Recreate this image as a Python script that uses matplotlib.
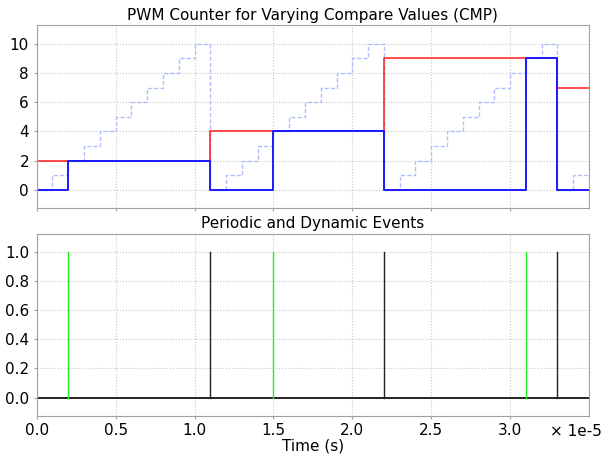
import numpy as np
import matplotlib
matplotlib.use("Agg")
import matplotlib.pyplot as plt

## data (time in microseconds, scaled to seconds when plotting)
t_us = [0, 1, 2, 3, 4, 5, 6, 7, 8, 9, 10, 11, 12, 13, 14, 15, 16, 17,
        18, 19, 20, 21, 22, 23, 24, 25, 26, 27, 28, 29, 30, 31, 32, 33, 34, 35]
counter = [0, 1, 2, 3, 4, 5, 6, 7, 8, 9, 10, 0, 1, 2, 3, 4, 5, 6,
           7, 8, 9, 10, 0, 1, 2, 3, 4, 5, 6, 7, 8, 9, 10, 0, 1, 1]
cmp_t_us = [0, 11, 22, 33, 35]
cmp_vals = [2, 4, 9, 7, 7]
pwm_t_us = [0, 2, 11, 15, 22, 31, 33, 35]
pwm_vals = [0, 2, 0, 4, 0, 9, 0, 0]

dynamic_events_us = [2, 15, 31]    # green
periodic_events_us = [11, 22, 33]  # black

t = np.array(t_us) * 1e-6
cmp_t = np.array(cmp_t_us) * 1e-6
pwm_t = np.array(pwm_t_us) * 1e-6

plt.rcParams['font.family'] = ['DejaVu Sans']
plt.rcParams['font.size'] = 11

W, H = 604, 457
fig = plt.figure(figsize=(W/100, H/100), dpi=100)
left, right = 36.7, 589
ax1 = fig.add_axes([left/W, 1 - 208.3/H, (right-left)/W, (208.3-25.3)/H])
ax2 = fig.add_axes([left/W, 1 - 415.7/H, (right-left)/W, (415.7-233.7)/H])

spine_col = '#a0a0a0'
for ax in (ax1, ax2):
    for s in ax.spines.values():
        s.set_color(spine_col)
    ax.grid(True, linestyle=':', color='#c8c8c8', linewidth=0.8)
    ax.tick_params(colors=spine_col, labelcolor='black', length=2.5, pad=3, labelsize=11)
    ax.set_xlim(0, 3.5e-5)
    ax.set_xticks(np.arange(0, 3.01e-5, 0.5e-5))

## top: counter, compare value, pwm output
ax1.step(t, counter, where='post', color='#b0bdff', linestyle=(0, (3, 1.5)), linewidth=1.0)
ax1.step(cmp_t, cmp_vals, where='post', color='#ff1a1a', linewidth=1.1)
ax1.step(pwm_t, pwm_vals, where='post', color='#1a1aff', linewidth=1.4)
ax1.set_ylim(-1.25, 11.25)
ax1.set_yticks([0, 2, 4, 6, 8, 10])
ax1.set_xticklabels([])
ax1.set_title("PWM Counter for Varying Compare Values (CMP)", fontsize=11, pad=4)

## bottom: events
ax2.plot([0, 3.5e-5], [0, 0], color='black', linewidth=1.2)
for e in dynamic_events_us:
    ax2.plot([e*1e-6, e*1e-6], [0, 1], color='#22ee22', linewidth=1.0)
for e in periodic_events_us:
    ax2.plot([e*1e-6, e*1e-6], [0, 1], color='#222222', linewidth=1.0)
ax2.set_ylim(-0.125, 1.125)
ax2.set_yticks([0, 0.2, 0.4, 0.6, 0.8, 1.0])
ax2.set_yticklabels(["0.0", "0.2", "0.4", "0.6", "0.8", "1.0"])
ax2.set_xticklabels(["0.0", "0.5", "1.0", "1.5", "2.0", "2.5", "3.0"])
fig.text(602/W, 1 - 431.5/H, "× 1e-5", ha='right', va='center', fontsize=11)
ax2.set_xlabel("Time (s)", fontsize=11, labelpad=0)
ax2.set_title("Periodic and Dynamic Events", fontsize=11, pad=4)

fig.savefig("out.png", dpi=100)
